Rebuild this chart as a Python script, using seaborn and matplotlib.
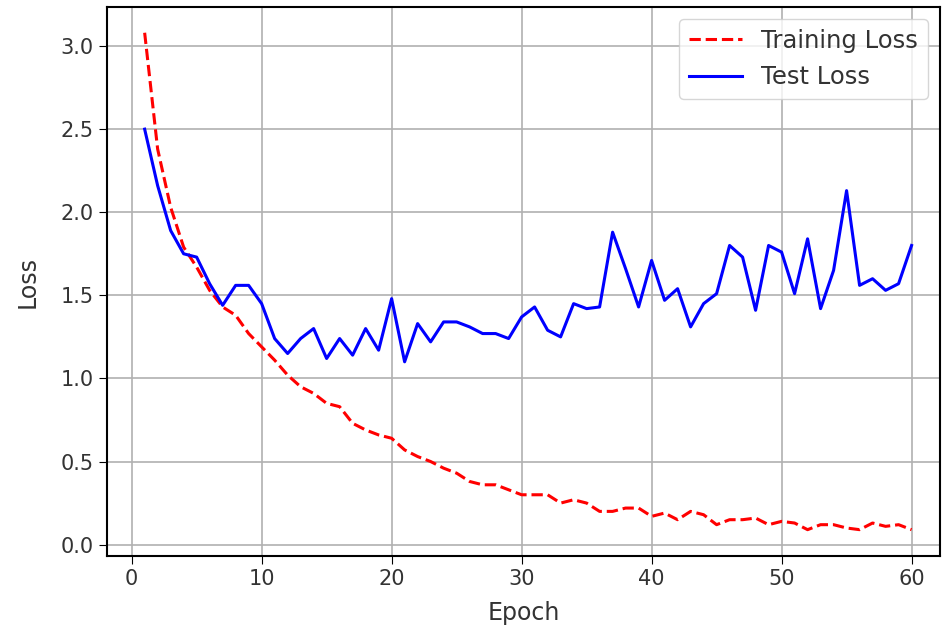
import matplotlib
matplotlib.use("Agg")
import matplotlib.pyplot as plt
import numpy as np
import pandas as pd
import seaborn as sns

# ── Data ────────────────────────────────────────────────────────────────────
epochs = list(range(1, 61))

train_loss = [
    3.08, 2.38, 2.03, 1.79, 1.67, 1.53, 1.43, 1.38, 1.27, 1.19,
    1.11, 1.02, 0.95, 0.91, 0.85, 0.83, 0.73, 0.69, 0.66, 0.64,
    0.57, 0.53, 0.50, 0.46, 0.43, 0.38, 0.36, 0.36, 0.33, 0.30,
    0.30, 0.30, 0.25, 0.27, 0.25, 0.20, 0.20, 0.22, 0.22, 0.17,
    0.19, 0.15, 0.20, 0.18, 0.12, 0.15, 0.15, 0.16, 0.12, 0.14,
    0.13, 0.09, 0.12, 0.12, 0.10, 0.09, 0.13, 0.11, 0.12, 0.09,
]

test_loss = [
    2.50, 2.16, 1.89, 1.75, 1.73, 1.57, 1.44, 1.56, 1.56, 1.45,
    1.24, 1.15, 1.24, 1.30, 1.12, 1.24, 1.14, 1.30, 1.17, 1.48,
    1.10, 1.33, 1.22, 1.34, 1.34, 1.31, 1.27, 1.27, 1.24, 1.37,
    1.43, 1.29, 1.25, 1.45, 1.42, 1.43, 1.88, 1.66, 1.43, 1.71,
    1.47, 1.54, 1.31, 1.45, 1.51, 1.80, 1.73, 1.41, 1.80, 1.76,
    1.51, 1.84, 1.42, 1.65, 2.13, 1.56, 1.60, 1.53, 1.57, 1.80,
]

df = pd.DataFrame({"Epoch": epochs, "train": train_loss, "test": test_loss})

# ── Plot ────────────────────────────────────────────────────────────────────
plt.rcParams["font.family"] = ["DejaVu Sans"]
fig = plt.figure(figsize=(9.43, 6.35), dpi=100)
ax = fig.add_axes([0.113, 0.124, 0.884, 0.865])

sns.lineplot(data=df, x="Epoch", y="train", ax=ax, color="red",
             linestyle="--", lw=2.2, label="Training Loss")
sns.lineplot(data=df, x="Epoch", y="test", ax=ax, color="blue",
             lw=2.2, label="Test Loss")

ax.set_xlim(-1.93, 62.2)
ax.set_ylim(-0.07, 3.235)
ax.set_xticks(np.arange(0, 61, 10))
ax.set_yticks(np.arange(0, 3.01, 0.5))
ax.set_xlabel("Epoch", fontsize=17, color="#333333", labelpad=8)
ax.set_ylabel("Loss", fontsize=17, color="#333333", labelpad=15)
ax.tick_params(labelsize=15, length=6, labelcolor="#333333")
ax.grid(True, color="#b0b0b0", lw=1.2)
for s in ax.spines.values():
    s.set_linewidth(1.5)
ax.legend(loc="upper right", fontsize=17.5, framealpha=0.8,
          handlelength=2.2, labelcolor="#333333")

fig.savefig("out.png", dpi=100)
